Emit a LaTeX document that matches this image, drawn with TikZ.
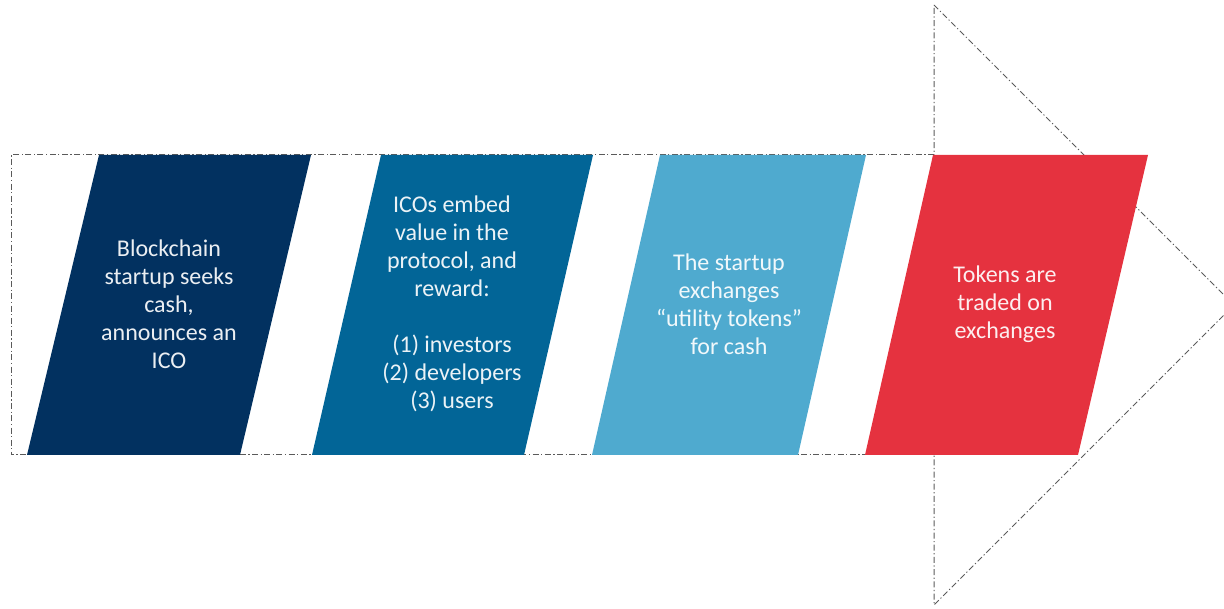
\documentclass[tikz,border=0pt]{standalone}
\usepackage{fontspec}
\setmainfont{Carlito}
\definecolor{cnavy}{RGB}{2,49,96}
\definecolor{cblue}{RGB}{2,101,151}
\definecolor{clight}{RGB}{79,170,207}
\definecolor{cred}{RGB}{229,50,63}
\definecolor{cline}{RGB}{90,90,90}
\tikzset{
  outline/.style={draw=cline, line width=1pt, dash pattern=on 6pt off 2.5pt on 1.2pt off 2.5pt},
  stepshape/.style={draw=none},
  steptext/.style={text=white, opacity=0.92, align=center, font=\fontsize{24}{28}\selectfont, inner sep=0pt},
}
\begin{document}
\begin{tikzpicture}[x=1pt,y=-1pt]
\useasboundingbox (0,0) rectangle (1224,609);
\begin{scope}
  \clip (0,0) rectangle (1224,609);
  \draw[outline] (934,155) -- (11,155) -- (11,455) -- (934,455);
  \draw[outline] (934,5) -- (1234,305) -- (934,605) -- cycle;
\end{scope}
% parallelograms: top from x to x+212, bottom shifted left by 72
\fill[cnavy] (99,155) -- (311,155) -- (240,455) -- (27,455) -- cycle;
\fill[cblue] (381,155) -- (593,155) -- (524,455) -- (312,455) -- cycle;
\fill[clight] (660,155) -- (866,155) -- (798,455) -- (592,455) -- cycle;
\fill[cred] (933,155) -- (1148,155) -- (1078,455) -- (865,455) -- cycle;
\node[steptext] (s1) at (169,304) {Blockchain\\startup seeks\\cash,\\announces an\\ICO};
\node[steptext] (s2) at (452,304) {ICOs embed\\value in the\\protocol, and\\reward:\\[28pt](1) investors\\(2) developers\\(3) users};
\node[steptext] (s3) at (729,304) {The startup\\exchanges\\“utility tokens”\\for cash};
\node[steptext] (s4) at (1005,304) {Tokens are\\traded on\\exchanges};
\end{tikzpicture}
\end{document}
